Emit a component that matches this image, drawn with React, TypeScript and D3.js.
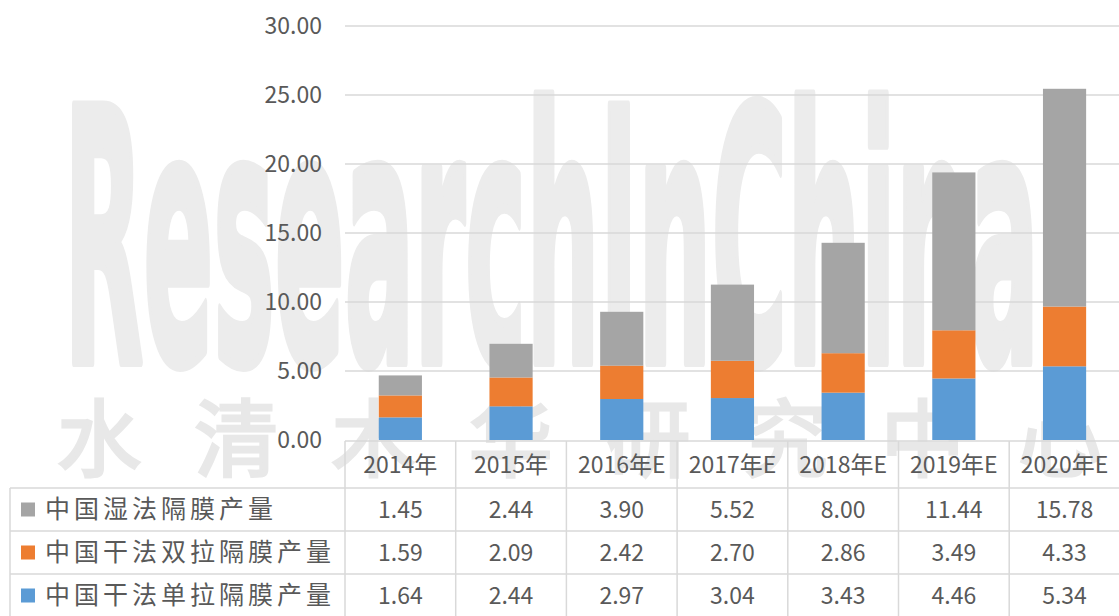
import React from "react";
import * as d3 from "d3";

const categories = ["2014年", "2015年", "2016年E", "2017年E", "2018年E", "2019年E", "2020年E"];
const wetValues = [1.45, 2.44, 3.9, 5.52, 8.0, 11.44, 15.78];
const dryDoubleValues = [1.59, 2.09, 2.42, 2.7, 2.86, 3.49, 4.33];
const drySingleValues = [1.64, 2.44, 2.97, 3.04, 3.43, 4.46, 5.34];
const yTicks = [0, 5, 10, 15, 20, 25, 30];

const seriesNames = ["中国湿法隔膜产量", "中国干法双拉隔膜产量", "中国干法单拉隔膜产量"];
const seriesColors = ["#A5A5A5", "#ED7D31", "#5B9BD5"];
const seriesValues = [wetValues, dryDoubleValues, drySingleValues];

const W = 1119;
const H = 616;
const FONT = "'Noto Sans CJK SC', 'Noto Sans', sans-serif";
const TEXT = "#595959";
const GRID = "#d9d9d9";

export default function App() {
  const y = d3.scaleLinear().domain([0, 30]).range([440, 26]);
  const x = d3.scaleBand<string>().domain(categories).range([345, 345 + 7 * 110.7]).padding(0);
  const bw = x.bandwidth() * 0.39;

  const rows = categories.map((c, i) => ({
    cat: c,
    single: drySingleValues[i],
    double: dryDoubleValues[i],
    wet: wetValues[i],
  }));
  const stackKeys = ["single", "double", "wet"];
  const stackColors: Record<string, string> = { single: "#5B9BD5", double: "#ED7D31", wet: "#A5A5A5" };
  const stacked = d3.stack<any>().keys(stackKeys)(rows);

  const headerTop = 441;
  const rowTops = [488, 531, 574];
  const rowH = 43;
  const tableLeft = 10;
  const colLeft = 345;
  const right = W + 2;

  const fmt = d3.format(".2f");

  return (
    <svg width={W} height={H} style={{ position: "absolute", left: 0, top: 0, background: "#fff" }} fontFamily={FONT}>
      {/* watermark */}
      <text
        x={64}
        y={362}
        fontFamily="'Liberation Sans Narrow', 'DejaVu Sans', sans-serif"
        fontWeight="bold"
        fontSize={352}
        fill="#ececec"
        stroke="#ececec"
        strokeWidth={10}
        strokeLinejoin="round"
        textLength={975}
        lengthAdjust="spacingAndGlyphs"
      >
        ResearchInChina
      </text>
      <text
        x={57}
        y={470}
        fontSize={84}
        fill="#e8e8e8"
        stroke="#e8e8e8"
        strokeWidth={3}
        textLength={1045}
        lengthAdjust="spacing"
      >
        水清木华研究中心
      </text>

      {/* gridlines */}
      {yTicks.slice(1).map((t) => (
        <line key={t} x1={345} x2={right} y1={y(t)} y2={y(t)} stroke={GRID} strokeWidth={1.5} />
      ))}
      {yTicks.map((t) => (
        <text key={"l" + t} x={322} y={y(t)} dy="0.35em" textAnchor="end" fontSize={23} fill={TEXT}>
          {fmt(t)}
        </text>
      ))}

      {/* bars */}
      {stacked.map((s) => (
        <g key={s.key} fill={stackColors[s.key]}>
          {s.map((d, i) => (
            <rect
              key={i}
              x={(x(categories[i]) as number) + (x.bandwidth() - bw) / 2}
              y={y(d[1])}
              width={bw}
              height={y(d[0]) - y(d[1])}
            />
          ))}
        </g>
      ))}

      {/* table */}
      <rect x={tableLeft} y={rowTops[0]} width={right - tableLeft} height={H - rowTops[0] + 2} fill="#fff" />
      <line x1={colLeft} x2={right} y1={headerTop} y2={headerTop} stroke={GRID} strokeWidth={1.5} />
      {rowTops.map((t) => (
        <line key={t} x1={tableLeft} x2={right} y1={t} y2={t} stroke={GRID} strokeWidth={1.5} />
      ))}
      <line x1={tableLeft} x2={tableLeft} y1={rowTops[0]} y2={H} stroke={GRID} strokeWidth={1.5} />
      {categories.map((c) => (
        <line
          key={"v" + c}
          x1={x(c) as number}
          x2={x(c) as number}
          y1={headerTop}
          y2={H}
          stroke={GRID}
          strokeWidth={1.5}
        />
      ))}
      {categories.map((c) => (
        <text
          key={"h" + c}
          x={(x(c) as number) + x.bandwidth() / 2}
          y={465}
          dy="0.35em"
          textAnchor="middle"
          fontSize={23}
          fill={TEXT}
        >
          {c}
        </text>
      ))}
      {seriesNames.map((name, r) => (
        <g key={name}>
          <rect x={21} y={rowTops[r] + rowH / 2 - 7} width={14} height={14} fill={seriesColors[r]} />
          <text x={45} y={rowTops[r] + rowH / 2} dy="0.35em" fontSize={25} letterSpacing={4} fill={TEXT}>
            {name}
          </text>
          {seriesValues[r].map((v, i) => (
            <text
              key={i}
              x={(x(categories[i]) as number) + x.bandwidth() / 2}
              y={rowTops[r] + rowH / 2}
              dy="0.35em"
              textAnchor="middle"
              fontSize={23}
              fill={TEXT}
            >
              {fmt(v)}
            </text>
          ))}
        </g>
      ))}
    </svg>
  );
}
